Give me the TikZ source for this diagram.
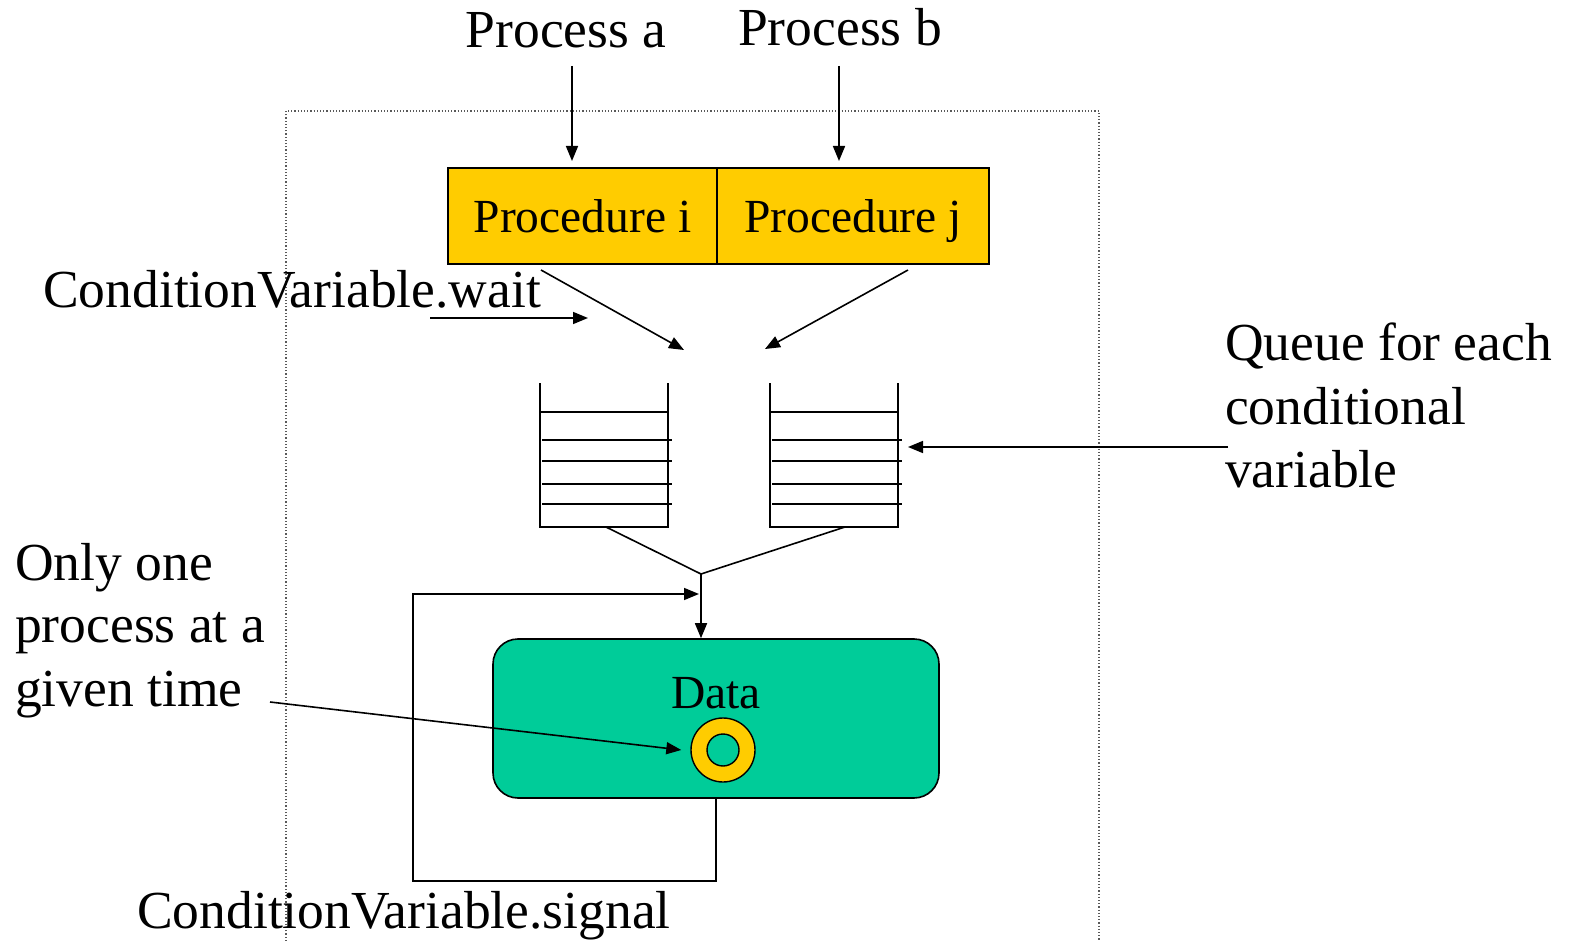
\documentclass[tikz,border=0pt]{standalone}
\usepackage{fontspec}
\setmainfont{Liberation Serif}
\usetikzlibrary{arrows.meta}
\definecolor{procyellow}{HTML}{FFCC00}
\definecolor{datagreen}{HTML}{00CC99}
\tikzset{
  lbl/.style={inner sep=0pt, anchor=base west, font=\fontsize{53.5}{62}\selectfont},
  ctr/.style={inner sep=0pt, anchor=base, font=\fontsize{53.5}{62}\selectfont},
  ln/.style={line width=1.6pt},
  arr/.style={line width=1.6pt, -{Triangle[length=15pt,width=12pt]}},
  procbox/.style={draw, line width=1.6pt, fill=procyellow, inner sep=0pt, minimum height=96pt, text height=34pt, text depth=0pt, font=\fontsize{47.5}{56}\selectfont},
  qline/.style={line width=1.4pt}
}
\begin{document}
\begin{tikzpicture}[x=1pt,y=-1pt]
\useasboundingbox (0,0) rectangle (1572,941);
% dotted monitor boundary
\draw[dotted, line width=1.2pt, gray!70!black] (286,941) -- (286,111) -- (1099,111) -- (1099,941);

% process labels
\node[ctr] (pa) at (566,48) {Process a};
\node[ctr] (pb) at (840,46) {Process b};

% procedure boxes
\node[procbox, minimum width=269pt] (pi) at (582.5,216) {Procedure i};
\node[procbox, minimum width=272pt] (pj) at (853,216) {Procedure j};

\coordinate (pa0) at (572,66);
\coordinate (pb0) at (839,66);
\draw[arr] (pa0) -- (pa0 |- 0,161);
\draw[arr] (pb0) -- (pb0 |- 0,161);

% wait label and arrows
\node[lbl] (wait) at (43,308) {ConditionVariable.wait};
\coordinate (w0) at (430,318);
\coordinate (w1) at (588,318);
\draw[arr] (w0) -- (w1);
\coordinate (pi0) at (541,270);
\coordinate (pi1) at (684,350);
\coordinate (pj0) at (908,270);
\coordinate (pj1) at (765,349);
\draw[arr] (pi0) -- (pi1);
\draw[arr] (pj0) -- (pj1);

% queues
\foreach \qx/\nm in {540/ql, 770/qr}{
  \coordinate (\nm) at (\qx,527);
  \draw[qline] (\qx,383) -- (\qx,527) -- (\qx+128,527) -- (\qx+128,383);
  \draw[qline] (\qx,412) -- (\qx+128,412);
  \foreach \yy in {440,461,484,504}{
    \draw[qline] (\qx+2,\yy) -- (\qx+132,\yy);
  }
}

% queue label
\node[lbl] (q1) at (1225,360) {Queue for each};
\node[lbl] (q2) at (1225,424) {conditional};
\node[lbl] (q3) at (1225,487) {variable};
\coordinate (qa0) at (1228,447);
\coordinate (qa1) at (908,447);
\draw[arr] (qa0) -- (qa1);

% merge
\coordinate (join) at (701,574);
\draw[ln] (606,527) -- (join) -- (845,527);

% data box
\node[draw, line width=1.6pt, fill=datagreen, rounded corners=25pt, minimum width=446pt, minimum height=159pt, inner sep=0pt] (data) at (716,718.5) {};
\node[ctr, font=\fontsize{47.5}{56}\selectfont] (datalbl) at (716,708) {Data};
\node[circle, draw, line width=1.4pt, fill=procyellow, minimum size=64pt, inner sep=0pt] (ring) at (723,750) {};
\node[circle, draw, line width=1.4pt, fill=datagreen, minimum size=32pt, inner sep=0pt] (hole) at (ring.center) {};

\draw[arr] (join) -- (join |- data.north);

% signal loop
\draw[arr] (data.south) -- ++(0,82) -| (413,594) -- (699,594);
\node[lbl] (signal) at (137,928) {ConditionVariable.signal};

% only one label
\node[lbl] (o1) at (15,580) {Only one};
\node[lbl] (o2) at (15,642) {process at a};
\node[lbl] (o3) at (15,706) {given time};
\coordinate (oa0) at (270,702);
\draw[arr] (oa0) -- ([xshift=-9pt]ring.west);
\end{tikzpicture}
\end{document}
